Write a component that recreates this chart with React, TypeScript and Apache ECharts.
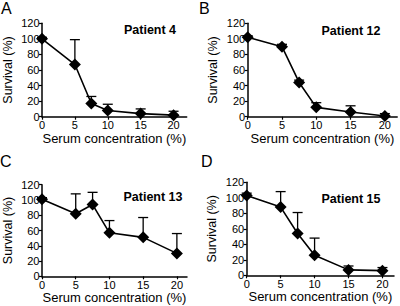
import React, { useEffect, useRef } from "react";
import * as echarts from "echarts";

const conc = [0, 5, 7.5, 10, 15, 20];
const xTicks = [0, 5, 10, 15, 20];

const p4Mean = [100, 67, 17, 8, 4, 2];
const p4Err = [2, 32, 9, 8, 6, 5];
const p12Mean = [102, 90, 44, 12, 6, 1];
const p12Err = [2, 3, 3, 6, 8, 3];
const p13Mean = [101, 82, 94, 57, 51, 30];
const p13Err = [2, 26, 16, 16, 26, 26];
const p15Mean = [103, 88, 54, 26, 7, 6];
const p15Err = [3, 20, 27, 22, 5, 4];

const panelLetters = ["A", "B", "C", "D"];
const patientNames = ["Patient 4", "Patient 12", "Patient 13", "Patient 15"];
const means = [p4Mean, p12Mean, p13Mean, p15Mean];
const errs = [p4Err, p12Err, p13Err, p15Err];

const FONT = "'Liberation Sans', Arial, Helvetica, sans-serif";

const layouts = [
  { left: 40, top: 23.3, width: 146.7, height: 93.4, xmax: 22 },
  { left: 247.7, top: 23.3, width: 149.5, height: 93.4, xmax: 21.8 },
  { left: 40, top: 184.7, width: 147, height: 91.6, xmax: 21.5 },
  { left: 246.7, top: 182.3, width: 147.3, height: 93, xmax: 21.7 },
];

const letterPos = [
  [1, 0],
  [199, 0],
  [0, 153],
  [201, 153],
];
const patientPos = [
  [150, 30],
  [351, 31],
  [153, 197],
  [351, 199],
];

export default function App() {
  const ref = useRef<HTMLDivElement>(null);
  useEffect(() => {
    if (!ref.current) return;
    const chart = echarts.init(ref.current, undefined, { renderer: "svg" });
    const grid: any[] = [];
    const xAxis: any[] = [];
    const yAxis: any[] = [];
    const series: any[] = [];
    const graphic: any[] = [];
    layouts.forEach((l, i) => {
      grid.push({ left: l.left, top: l.top, width: l.width, height: l.height, containLabel: false });
      xAxis.push({
        type: "value",
        gridIndex: i,
        min: 0,
        max: l.xmax,
        interval: 5,
        name: "Serum concentration (%)",
        nameLocation: "middle",
        nameGap: 14,
        nameTextStyle: { fontFamily: FONT, fontSize: 13, color: "#000" },
        axisLine: { lineStyle: { color: "#000", width: 1.5 } },
        axisTick: { show: true, length: 3, customValues: xTicks, lineStyle: { color: "#000", width: 1.2 } },
        axisLabel: { customValues: xTicks, fontFamily: FONT, fontSize: 11, color: "#000", margin: 3 },
        splitLine: { show: false },
      });
      yAxis.push({
        type: "value",
        gridIndex: i,
        min: 0,
        max: 120,
        interval: 20,
        name: "Survival (%)",
        nameLocation: "middle",
        nameRotate: 90,
        nameGap: 28,
        nameTextStyle: { fontFamily: FONT, fontSize: 12.5, color: "#000" },
        axisLine: { show: true, lineStyle: { color: "#000", width: 1.5 } },
        axisTick: { show: true, length: 3, lineStyle: { color: "#000", width: 1.2 } },
        axisLabel: { fontFamily: FONT, fontSize: 11, color: "#000", margin: 2.5 },
        splitLine: { show: false },
      });
      const m = means[i];
      const e = errs[i];
      series.push({
        type: "custom",
        xAxisIndex: i,
        yAxisIndex: i,
        data: conc.map((c, k) => [c, m[k], m[k] + e[k]]),
        renderItem: (params: any, api: any) => {
          const p0 = api.coord([api.value(0), api.value(1)]);
          const p1 = api.coord([api.value(0), api.value(2)]);
          const st = { stroke: "#000", lineWidth: 1.3 };
          return {
            type: "group",
            children: [
              { type: "line", shape: { x1: p0[0], y1: p0[1], x2: p1[0], y2: p1[1] }, style: st },
              { type: "line", shape: { x1: p1[0] - 5, y1: p1[1], x2: p1[0] + 5, y2: p1[1] }, style: st },
            ],
          };
        },
        z: 1,
      });
      series.push({
        type: "line",
        xAxisIndex: i,
        yAxisIndex: i,
        data: conc.map((c, k) => [c, m[k]]),
        symbol: "diamond",
        symbolSize: 12,
        lineStyle: { color: "#000", width: 1.6 },
        itemStyle: { color: "#000" },
        z: 2,
      });
      graphic.push({
        type: "text",
        left: letterPos[i][0],
        top: letterPos[i][1],
        style: { text: panelLetters[i], fontFamily: FONT, fontSize: 16, fill: "#000" },
      });
      graphic.push({
        type: "text",
        x: patientPos[i][0],
        y: patientPos[i][1],
        style: {
          text: patientNames[i],
          fontFamily: FONT,
          fontSize: 12.5,
          fontWeight: "bold",
          fill: "#000",
          align: "center",
          verticalAlign: "middle",
        },
      });
    });
    chart.setOption({
      animation: false,
      backgroundColor: "#fff",
      grid,
      xAxis,
      yAxis,
      series,
      graphic,
    });
    return () => chart.dispose();
  }, []);
  return (
    <div
      ref={ref}
      style={{ position: "fixed", left: 0, top: 0, width: 400, height: 306, background: "#fff" }}
    />
  );
}
